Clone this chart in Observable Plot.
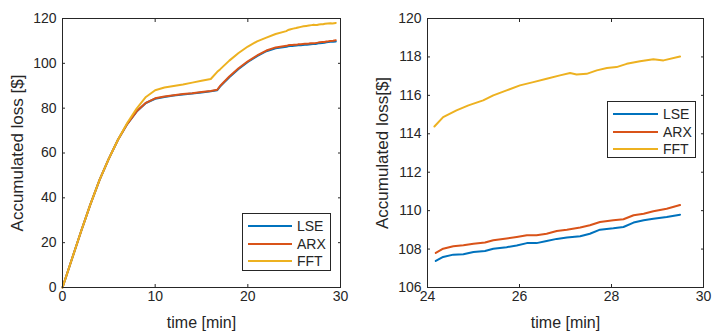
<!DOCTYPE html>
<html>
<head>
<meta charset="utf-8">
<script src="https://cdn.jsdelivr.net/npm/d3@7"></script>
<script src="https://cdn.jsdelivr.net/npm/@observablehq/plot@0.6"></script>
<style>
  html, body { margin: 0; padding: 0; background: #fff; }
  #wrap { position: relative; width: 715px; height: 335px; font-family: "Liberation Sans", Arial, sans-serif; color: #262626; }
  .panel { position: absolute; top: 0; }
  .legend { position: absolute; background: #fff; border: 1px solid #262626; box-sizing: border-box; font-size: 14px; }
  .legend .row { position: absolute; left: 0; height: 16px; display: flex; align-items: center; }
  .legend svg { display: block; }
  .legend span { margin-left: 5px; line-height: 16px; }
</style>
</head>
<body>
<div id="wrap">
  <div id="left" class="panel" style="left:0"></div>
  <div id="right" class="panel" style="left:357px"></div>
</div>
<script>
// ---- Data ----
const seriesNames = ["LSE", "ARX", "FFT"];
const seriesColors = ["#0072BD", "#D95319", "#EDB120"];

// early part (0 .. 23 min), shared time grid
const timeEarly = [0,1,2,3,4,5,6,7,8,9,10,11,12,13,14,15,16,16.7,17,18,19,20,21,22,23];
const lseEarly  = [0,12.5,25,37,48,57.5,66,73,78.5,82.3,84.2,85,85.6,86.1,86.5,87,87.5,88,89.6,93.8,97.5,100.6,103.2,105.4,106.7];
const arxEarly  = [0,12.5,25,37,48,57.5,66,73,78.6,82.4,84.4,85.2,85.8,86.3,86.7,87.2,87.7,88.2,89.9,94.1,97.8,100.9,103.5,105.7,107.1];
const fftEarly  = [0,12.5,25,37,48,57.5,66,73.5,79.8,85,88,89.2,89.9,90.6,91.4,92.2,93,96.2,97.3,101.2,104.6,107.5,109.8,111.5,113.1];

// late part (24 .. 29.5 min), fine detail
const timeLateLA = [24.18,24.34,24.56,24.78,25.0,25.25,25.43,25.72,25.94,26.16,26.37,26.59,26.81,27.03,27.32,27.53,27.75,28.04,28.26,28.48,28.70,28.91,29.20,29.49];
const lseLate = [107.38,107.59,107.71,107.73,107.85,107.90,108.02,108.10,108.19,108.31,108.31,108.42,108.53,108.60,108.67,108.80,109.01,109.08,109.15,109.38,109.50,109.58,109.67,109.79];
const arxLate = [107.80,108.02,108.15,108.20,108.28,108.34,108.46,108.55,108.63,108.72,108.72,108.80,108.94,109.01,109.12,109.24,109.41,109.50,109.55,109.76,109.84,109.97,110.10,110.29];
const timeLateF = [24.15,24.34,24.63,24.89,25.21,25.43,25.72,26.01,26.30,26.59,26.88,27.10,27.24,27.46,27.68,27.90,28.11,28.33,28.62,28.91,29.13,29.49];
const fftLate = [114.38,114.87,115.22,115.48,115.74,116.0,116.26,116.52,116.69,116.86,117.04,117.16,117.09,117.12,117.30,117.42,117.47,117.64,117.78,117.88,117.82,118.02];

const leftXTicks = [0, 10, 20, 30];
const leftYTicks = [0, 20, 40, 60, 80, 100, 120];
const rightXTicks = [24, 26, 28, 30];
const rightYTicks = [106, 108, 110, 112, 114, 116, 118, 120];

// ---- Build tables ----
function build(name, te, ve, tl, vl) {
  const rows = [];
  te.forEach((t, i) => rows.push({series: name, t, v: ve[i], late: false}));
  tl.forEach((t, i) => rows.push({series: name, t, v: vl[i], late: true}));
  return rows;
}
const all = [
  ...build("LSE", timeEarly, lseEarly, timeLateLA, lseLate),
  ...build("ARX", timeEarly, arxEarly, timeLateLA, arxLate),
  ...build("FFT", timeEarly, fftEarly, timeLateF, fftLate)
];
const late = all.filter(d => d.late);

const axisColor = "#262626";
const font = "Liberation Sans, Arial, sans-serif";

function panel({data, width, marginLeft, marginRight, xDomain, yDomain, xTicks, yTicks, yLabel}) {
  return Plot.plot({
    width, height: 335,
    marginLeft, marginRight, marginTop: 18, marginBottom: 48,
    style: {fontFamily: font, fontSize: "14px", color: axisColor, background: "#fff", overflow: "visible"},
    x: {domain: xDomain},
    y: {domain: yDomain},
    color: {domain: seriesNames, range: seriesColors},
    marks: [
      Plot.line(data, {x: "t", y: "v", stroke: "series", z: "series", strokeWidth: 2, curve: "linear"}),
      Plot.frame({stroke: axisColor, strokeWidth: 1}),
      // inward ticks on all four sides
      Plot.axisX(xTicks, {anchor: "bottom", tickSize: -3, fill: "none", stroke: axisColor}),
      Plot.axisX(xTicks, {anchor: "top", tickSize: -3, fill: "none", stroke: axisColor}),
      Plot.axisY(yTicks, {anchor: "left", tickSize: -3, fill: "none", stroke: axisColor}),
      Plot.axisY(yTicks, {anchor: "right", tickSize: -3, fill: "none", stroke: axisColor}),
      // tick labels + axis labels
      Plot.axisX(xTicks, {anchor: "bottom", tickSize: 0, tickPadding: 4, fontSize: 14, fill: axisColor,
        label: "time [min]", labelAnchor: "center", labelArrow: "none", labelOffset: 40}),
      Plot.axisY(yTicks, {anchor: "left", tickSize: 0, tickPadding: 6, fontSize: 14, fill: axisColor,
        label: yLabel, labelAnchor: "center", labelArrow: "none", labelOffset: 52})
    ]
  });
}

const leftPlot = panel({data: all, width: 357, marginLeft: 62, marginRight: 17,
  xDomain: [0, 30], yDomain: [0, 120], xTicks: leftXTicks, yTicks: leftYTicks, yLabel: "Accumulated loss [$]"});
const rightPlot = panel({data: late, width: 358, marginLeft: 70, marginRight: 12,
  xDomain: [24, 30], yDomain: [106, 120], xTicks: rightXTicks, yTicks: rightYTicks, yLabel: "Accumulated loss[$]"});

document.getElementById("left").appendChild(leftPlot);
document.getElementById("right").appendChild(rightPlot);

// Axis label sizes
for (const svg of [leftPlot, rightPlot]) {
  svg.querySelectorAll("g[aria-label='x-axis label'] text")
    .forEach(t => t.setAttribute("font-size", "16"));
  svg.querySelectorAll("g[aria-label='y-axis label'] text")
    .forEach(t => t.setAttribute("font-size", "17"));
}

// ---- Legends ----
function legend(left, top, w, h, lineX0, lineX1, rowYs) {
  const box = document.createElement("div");
  box.className = "legend";
  Object.assign(box.style, {left: left + "px", top: top + "px", width: w + "px", height: h + "px"});
  seriesNames.forEach((name, i) => {
    const row = document.createElement("div");
    row.className = "row";
    row.style.top = (rowYs[i] - top - 8) + "px";
    row.style.left = (lineX0 - left - 1) + "px";
    const len = lineX1 - lineX0;
    row.innerHTML = `<svg width="${len}" height="16"><line x1="0" x2="${len}" y1="8" y2="8" stroke="${seriesColors[i]}" stroke-width="2"/></svg><span>${name}</span>`;
    box.appendChild(row);
  });
  document.getElementById("wrap").appendChild(box);
}
legend(242, 213, 89, 58, 248, 292, [225, 243, 260]);
legend(607, 101, 89, 57, 613, 658, [113, 131, 148]);
</script>
</body>
</html>
